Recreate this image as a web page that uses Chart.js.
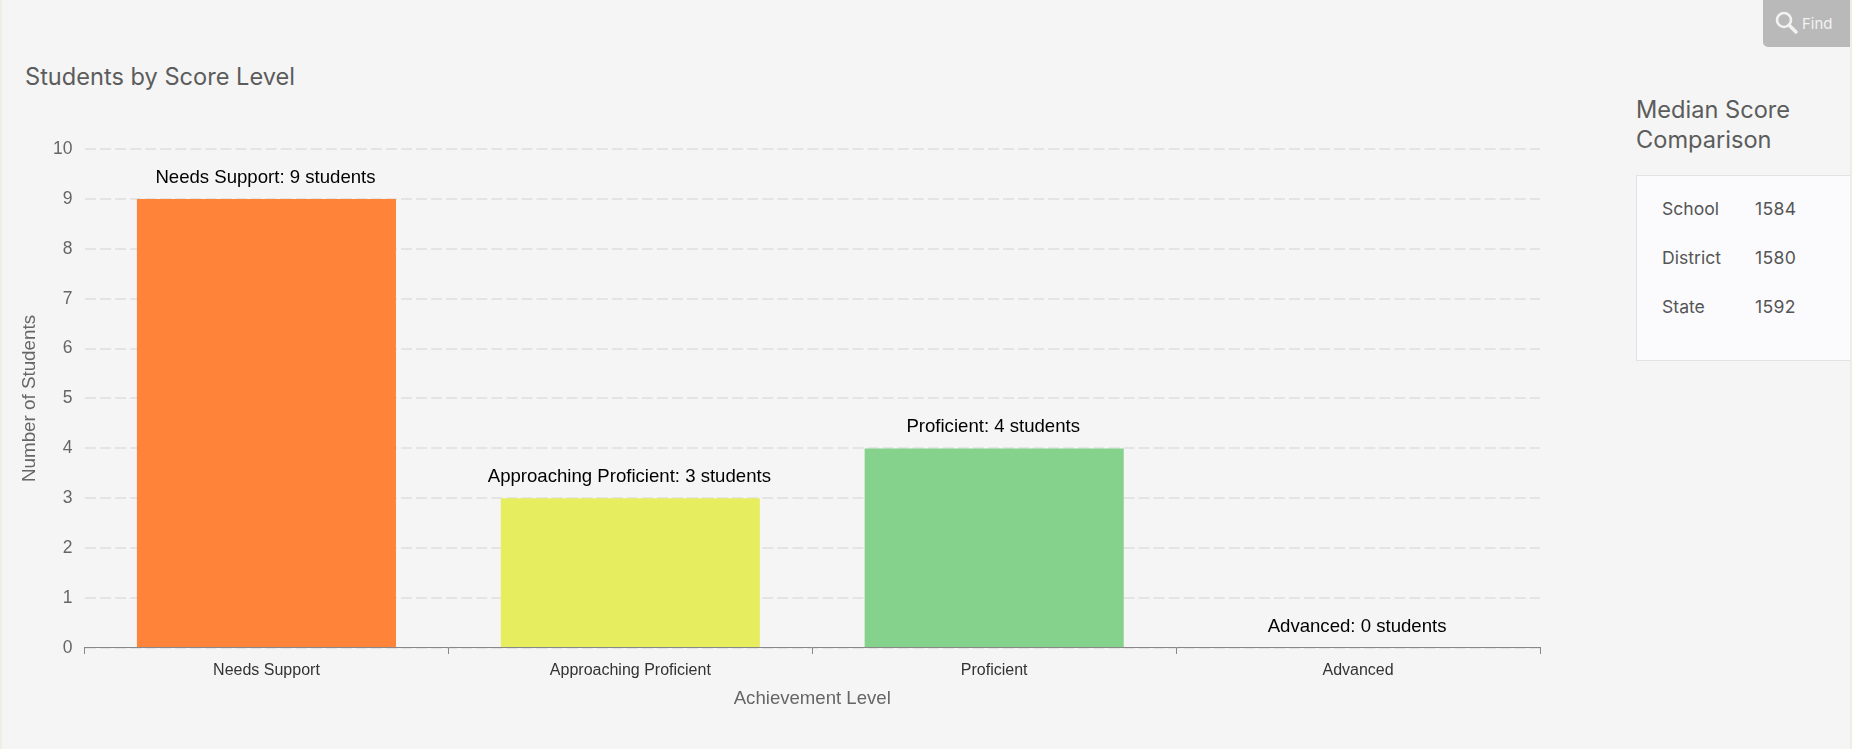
<!DOCTYPE html>
<html>
<head>
<meta charset="utf-8">
<title>Students by Score Level</title>
<script src="https://cdn.jsdelivr.net/npm/chart.js@4/dist/chart.umd.min.js"></script>
<style>
    html, body { margin: 0; padding: 0; width: 1852px; height: 749px; overflow: hidden; background: #f5f5f5; }
    body { position: relative; font-family: Inter, sans-serif; color: #555; }
    .edge { position: absolute; left: 0; top: 0; width: 2px; height: 749px; background: #f0ede4; }
    .edge.right { left: 1850px; }
    #chart-box { position: absolute; left: 0; top: 0; width: 1620px; height: 749px; }
    h2 { position: absolute; margin: 0; font-weight: 400; font-size: 23.6px; line-height: 30px; color: #5c5c5c; }
    #chart-title { left: 25px; top: 62px; }
    #side-title { left: 1636px; top: 95px; }
    #find { position: absolute; left: 1763px; top: 0; width: 87px; height: 47px; background: #b9b9b9; border-radius: 0 0 0 5px; color: #f2f2f2; font-size: 15px; font-weight: 400; }
    #find svg { position: absolute; left: 11px; top: 10px; }
    #find span { position: absolute; left: 39px; top: 14px; }
    #median { position: absolute; left: 1636px; top: 175px; width: 214px; height: 186px; box-sizing: border-box; background: #fbfbfd; border: 1px solid #e2e2e2; border-right: none; font-size: 17.6px; font-weight: 400; color: #555; }
    #median div { position: absolute; left: 25px; white-space: nowrap; }
    #median span { position: absolute; left: 93px; letter-spacing: 0.3px; }
</style>
</head>
<body>
<div class="edge"></div>
<div class="edge right"></div>
<h2 id="chart-title">Students by Score Level</h2>
<div id="chart-box"><canvas id="score-chart"></canvas></div>
<div id="find">
    <svg width="26" height="26" viewBox="0 0 26 26"><circle cx="10" cy="10" r="7" fill="none" stroke="#f2f2f2" stroke-width="2.6"/><line x1="15" y1="15" x2="22" y2="22" stroke="#f2f2f2" stroke-width="3.4" stroke-linecap="round"/></svg>
    <span>Find</span>
</div>
<h2 id="side-title">Median Score<br>Comparison</h2>
<div id="median"></div>

<script>
const levels = ['Needs Support', 'Approaching Proficient', 'Proficient', 'Advanced'];
const studentCounts = [9, 3, 4, 0];
const barColors = ['#ff8439', '#e6ee5f', '#85d28c', '#4caf50'];
const medianLabels = ['School', 'District', 'State'];
const medianScores = [1584, 1580, 1592];

// fill the median table
const medianBox = document.getElementById('median');
medianLabels.forEach((label, i) => {
    const row = document.createElement('div');
    row.style.top = (22 + i * 49) + 'px';
    row.textContent = label;
    const score = document.createElement('span');
    score.textContent = medianScores[i];
    row.appendChild(score);
    medianBox.appendChild(row);
});

// text above each bar
const barLabels = {
    id: 'barLabels',
    afterDatasetsDraw(chart) {
        const ctx = chart.ctx;
        const meta = chart.getDatasetMeta(0);
        ctx.save();
        ctx.font = '18.6px "Liberation Sans", sans-serif';
        ctx.fillStyle = '#000';
        ctx.textAlign = 'center';
        ctx.textBaseline = 'bottom';
        meta.data.forEach((bar, i) => {
            ctx.fillText(`${levels[i]}: ${studentCounts[i]} students`, bar.x - 1, bar.y - 12);
        });
        ctx.restore();
    }
};

new Chart(document.getElementById('score-chart'), {
    type: 'bar',
    data: {
        labels: levels,
        datasets: [{
            label: 'Students',
            data: studentCounts,
            backgroundColor: barColors,
            borderWidth: 0,
            barPercentage: 0.89,
            categoryPercentage: 0.8
        }]
    },
    options: {
        responsive: true,
        maintainAspectRatio: false,
        animation: false,
        layout: { padding: { left: 18.5, right: 80, top: 149, bottom: 38.5 } },
        plugins: {
            legend: { display: false },
            title: { display: false },
            tooltip: { enabled: false }
        },
        scales: {
            y: {
                min: 0,
                max: 10,
                ticks: {
                    stepSize: 1,
                    padding: 12,
                    color: '#666',
                    font: { family: '"Liberation Sans", sans-serif', size: 17.5 }
                },
                grid: { color: '#e4e4e4', lineWidth: 2, drawTicks: false },
                border: { display: false, dash: [11, 4.05] },
                title: {
                    display: true,
                    text: 'Number of Students',
                    color: '#666',
                    padding: { top: 0, bottom: 0 },
                    font: { family: '"Liberation Sans", sans-serif', size: 18.8 }
                }
            },
            x: {
                ticks: {
                    padding: 7,
                    color: '#333',
                    font: { family: '"Liberation Sans", sans-serif', size: 16 }
                },
                grid: { drawOnChartArea: false, drawTicks: true, tickLength: 6, color: '#888', offset: true },
                border: { color: '#888', width: 1 },
                title: {
                    display: true,
                    text: 'Achievement Level',
                    color: '#666',
                    padding: { top: 1, bottom: 0 },
                    font: { family: '"Liberation Sans", sans-serif', size: 18.6 }
                }
            }
        }
    },
    plugins: [barLabels]
});
</script>
</body>
</html>
